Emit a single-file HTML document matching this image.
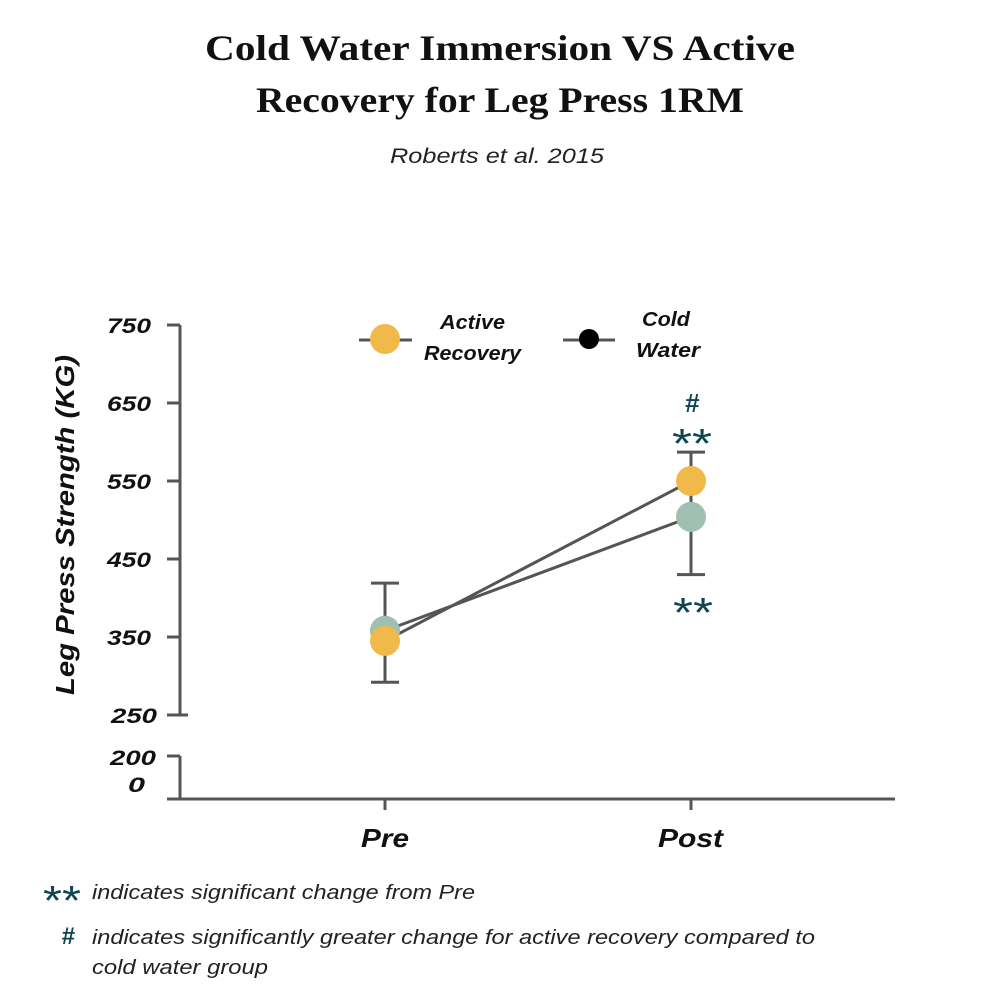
<!DOCTYPE html>
<html><head><meta charset="utf-8"><style>
body{margin:0;background:#fff}
svg text{font-family:"Liberation Sans",sans-serif}
</style></head><body>
<svg width="1000" height="1000" viewBox="0 0 1000 1000">
<text x="205" y="60" textLength="590" lengthAdjust="spacingAndGlyphs" font-size="36" font-weight="bold" fill="#111" style="font-family:'Liberation Serif',serif">Cold Water Immersion VS Active</text>
<text x="256" y="112" textLength="488" lengthAdjust="spacingAndGlyphs" font-size="36" font-weight="bold" fill="#111" style="font-family:'Liberation Serif',serif">Recovery for Leg Press 1RM</text>
<text x="390" y="163" textLength="214" lengthAdjust="spacingAndGlyphs" font-size="21" font-style="italic" fill="#222">Roberts et al. 2015</text>
<g id="axes" stroke="#555" stroke-width="3" fill="none"></g>
<g id="marks"></g>
<text transform="translate(74,695) rotate(-90)" textLength="340" lengthAdjust="spacingAndGlyphs" font-size="26" font-weight="bold" font-style="italic" fill="#111">Leg Press Strength (KG)</text>
<text x="110" y="765" textLength="46" lengthAdjust="spacingAndGlyphs" font-size="21" font-weight="bold" font-style="italic" fill="#111">200</text>
<text x="128" y="792" textLength="17" lengthAdjust="spacingAndGlyphs" font-size="21" font-weight="bold" font-style="italic" fill="#111">0</text>
<line x1="167" y1="756" x2="180" y2="756" stroke="#555" stroke-width="3"/>
<line x1="180" y1="756" x2="180" y2="799" stroke="#555" stroke-width="3"/>
<line x1="167" y1="799" x2="895" y2="799" stroke="#555" stroke-width="3"/>
<line x1="359" y1="340" x2="412" y2="340" stroke="#555" stroke-width="3"/>
<circle cx="385" cy="339" r="15" fill="#f0b94a"/>
<text x="440" y="329" textLength="65" lengthAdjust="spacingAndGlyphs" font-size="20" font-weight="bold" font-style="italic" fill="#111">Active</text>
<text x="424" y="360" textLength="97" lengthAdjust="spacingAndGlyphs" font-size="20" font-weight="bold" font-style="italic" fill="#111">Recovery</text>
<line x1="563" y1="340" x2="615" y2="340" stroke="#555" stroke-width="3"/>
<circle cx="589" cy="339" r="10" fill="#000"/>
<text x="642" y="326" textLength="48" lengthAdjust="spacingAndGlyphs" font-size="20" font-weight="bold" font-style="italic" fill="#111">Cold</text>
<text x="636" y="357" textLength="64" lengthAdjust="spacingAndGlyphs" font-size="20" font-weight="bold" font-style="italic" fill="#111">Water</text>
<text x="692" y="412" text-anchor="middle" font-size="26" font-weight="bold" font-style="italic" fill="#0e4550">#</text>
<text x="672" y="458" textLength="40" lengthAdjust="spacingAndGlyphs" font-size="42" fill="#0e4550">**</text>
<text x="673" y="627" textLength="40" lengthAdjust="spacingAndGlyphs" font-size="42" fill="#0e4550">**</text>
<text x="43" y="915" textLength="38" lengthAdjust="spacingAndGlyphs" font-size="42" fill="#0e4550">**</text>
<text x="92" y="899" textLength="383" lengthAdjust="spacingAndGlyphs" font-size="20" font-style="italic" fill="#222">indicates significant change from Pre</text>
<text x="68" y="944" text-anchor="middle" font-size="24" font-weight="bold" font-style="italic" fill="#0e4550">#</text>
<text x="92" y="944" textLength="723" lengthAdjust="spacingAndGlyphs" font-size="20" font-style="italic" fill="#222">indicates significantly greater change for active recovery compared to</text>
<text x="92" y="974" textLength="176" lengthAdjust="spacingAndGlyphs" font-size="20" font-style="italic" fill="#222">cold water group</text>
</svg>
<script>
const categories=["Pre","Post"];
const yTicks=[250,350,450,550,650,750];
const activeValues=[345,550];
const coldValues=[358,504];
const errLow=[292,430];
const errHigh=[419,587];
const NS="http://www.w3.org/2000/svg";
const y=v=>715-(v-250)*0.78;
const x=i=>385+i*306;
function mk(tag,attrs,parent){const e=document.createElementNS(NS,tag);for(const k in attrs)e.setAttribute(k,attrs[k]);parent.appendChild(e);return e;}
const axes=document.getElementById('axes'),marks=document.getElementById('marks'),svg=document.querySelector('svg');
const ya=mk('line',{x1:180,y1:y(750),x2:180,y2:y(250)},axes);


yTicks.forEach(t=>{
 const l=mk('line',{x1:167,y1:y(t),x2:t===250?188:180,y2:y(t)},axes);
 
 
 const tx=mk('text',{x:t===250?111:107,y:y(t)+8,textLength:t===250?46:44,lengthAdjust:'spacingAndGlyphs','font-size':21,'font-weight':'bold','font-style':'italic',fill:'#111'},svg);
 tx.textContent=t;
 
 
});
const xl=[[361,48],[658,65]];
categories.forEach((c,i)=>{
 const l=mk('line',{x1:x(i),y1:799,x2:x(i),y2:810},axes);
 
 
 const tx=mk('text',{x:x(i)-(i?33:24),y:847,textLength:i?65:48,lengthAdjust:'spacingAndGlyphs','font-size':26,'font-weight':'bold','font-style':'italic',fill:'#111'},svg);
 tx.textContent=c;
 
 
 const e=mk('path',{d:`M${x(i)-14},${y(errHigh[i])}H${x(i)+14}M${x(i)},${y(errHigh[i])}V${y(errLow[i])}M${x(i)-14},${y(errLow[i])}H${x(i)+14}`,stroke:'#555','stroke-width':3,fill:'none'},marks);
 
 
});
[[coldValues,'#9fc0b1','cold-water'],[activeValues,'#f0b94a','active-recovery']].forEach(([vals,col,name])=>{
 const p=mk('polyline',{points:vals.map((v,i)=>x(i)+','+y(v)).join(' '),stroke:'#555','stroke-width':3,fill:'none'},marks);
 
 
});
[[coldValues,'#9fc0b1','cold-water'],[activeValues,'#f0b94a','active-recovery']].forEach(([vals,col,name])=>{
 vals.forEach((v,i)=>{
  const c=mk('circle',{cx:x(i),cy:y(v),r:15,fill:col},marks);
  
  
 });
});
</script>
</body></html>
